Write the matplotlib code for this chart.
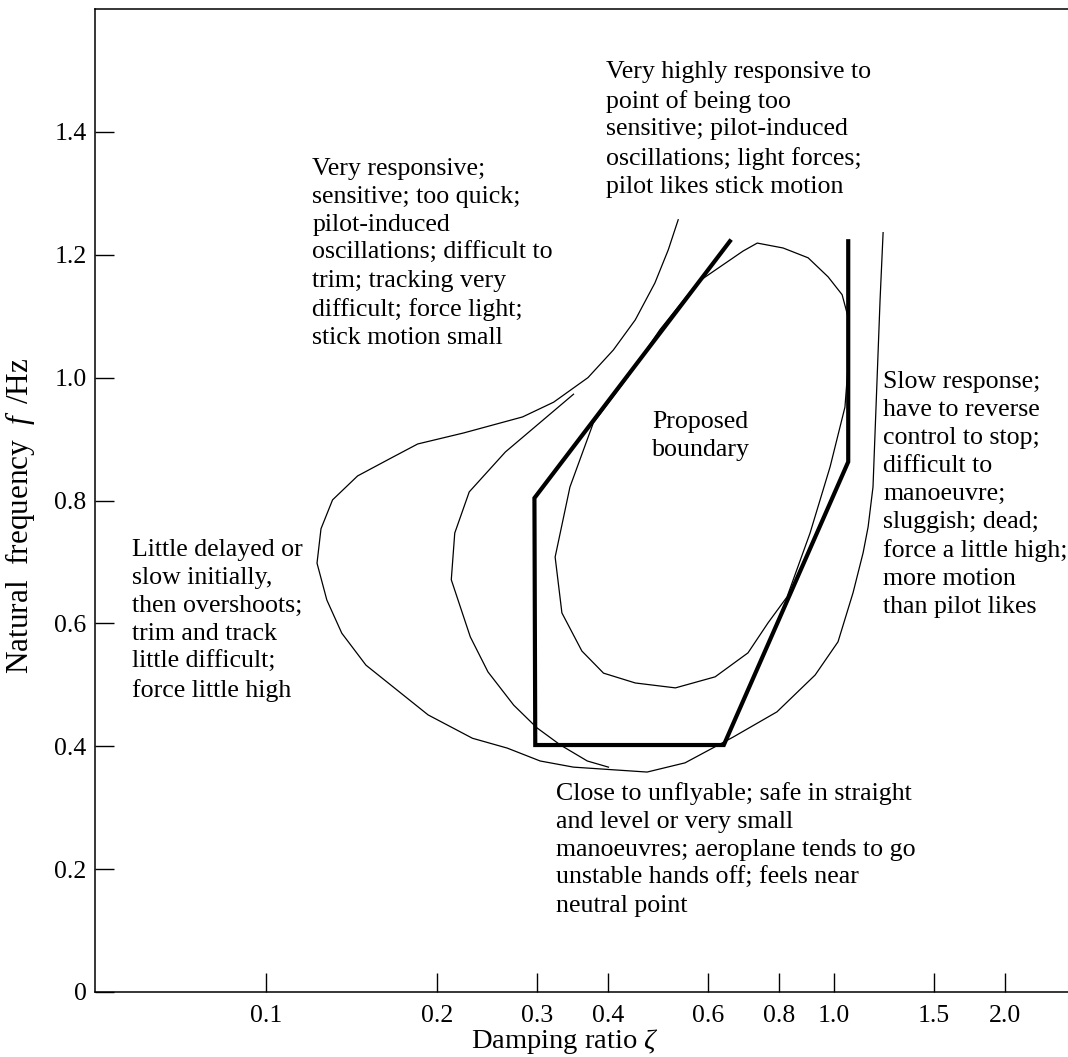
import numpy as np
import matplotlib
matplotlib.use('Agg')
import matplotlib.pylab as plt

plt.rcParams['font.family']=['Liberation Serif','DejaVu Serif']
plt.rcParams['mathtext.fontset']='custom'
plt.rcParams['mathtext.rm']='Liberation Serif'
plt.rcParams['mathtext.it']='Liberation Serif:italic'

# pilot opinion contours (damping ratio, natural frequency in Hz)
outer_zeta=[0.532,0.511,0.484,0.447,0.409,0.369,0.321,0.283,0.223,0.185,0.166,0.145,0.131,0.125,0.123,0.128,0.136,0.150,0.172,0.193,0.231,0.266,0.304,0.348,0.469,0.547,0.665,0.794,0.927,1.017,1.081,1.126,1.149,1.172,1.206,1.221]
outer_freq=[1.257,1.208,1.154,1.094,1.045,1.000,0.960,0.936,0.910,0.892,0.869,0.840,0.801,0.754,0.698,0.638,0.584,0.532,0.488,0.451,0.413,0.397,0.376,0.366,0.358,0.373,0.415,0.456,0.516,0.570,0.650,0.715,0.757,0.822,1.126,1.236]

middle_zeta=[0.348,0.264,0.228,0.215,0.212,0.229,0.246,0.273,0.300,0.330,0.368,0.401]
middle_freq=[0.973,0.879,0.814,0.747,0.671,0.578,0.521,0.467,0.430,0.402,0.376,0.366]

inner_zeta=[0.577,0.494,0.433,0.377,0.343,0.323,0.332,0.360,0.393,0.447,0.526,0.618,0.706,0.766,0.827,0.908,0.985,1.046,1.059,1.059,1.034,0.977,0.901,0.814,0.733,0.692,0.577]
inner_freq=[1.156,1.078,1.000,0.926,0.822,0.708,0.617,0.555,0.519,0.503,0.495,0.513,0.552,0.601,0.643,0.747,0.855,0.952,1.017,1.099,1.135,1.164,1.195,1.211,1.219,1.206,1.156]

boundary_zeta=[0.656,0.297,0.298,0.640,1.060,1.060]
boundary_freq=[1.222,0.804,0.402,0.402,0.863,1.222]

xticks=[0.1,0.2,0.3,0.4,0.6,0.8,1.0,1.5,2.0]
xticklabels=['0.1','0.2','0.3','0.4','0.6','0.8','1.0','1.5','2.0']
yticks=[0,0.2,0.4,0.6,0.8,1.0,1.2,1.4]
yticklabels=['0','0.2','0.4','0.6','0.8','1.0','1.2','1.4']

notes={
  'pio':{'x':0.397,'y':1.515,'text':'Very highly responsive to\npoint of being too\nsensitive; pilot-induced\noscillations; light forces;\npilot likes stick motion'},
  'quick':{'x':0.1207,'y':1.358,'text':'Very responsive;\nsensitive; too quick;\npilot-induced\noscillations; difficult to\ntrim; tracking very\ndifficult; force light;\nstick motion small'},
  'prop':{'x':0.4786,'y':0.946,'text':'Proposed\nboundary'},
  'slow':{'x':1.221,'y':1.011,'text':'Slow response;\nhave to reverse\ncontrol to stop;\ndifficult to\nmanoeuvre;\nsluggish; dead;\nforce a little high;\nmore motion\nthan pilot likes'},
  'delay':{'x':0.058,'y':0.737,'text':'Little delayed or\nslow initially,\nthen overshoots;\ntrim and track\nlittle difficult;\nforce little high'},
  'unfly':{'x':0.3245,'y':0.342,'text':'Close to unflyable; safe in straight\nand level or very small\nmanoeuvres; aeroplane tends to go\nunstable hands off; feels near\nneutral point'},
}

fig=plt.figure(figsize=(10.68,10.57),dpi=100)
ax=fig.add_axes([95/1068.,65/1057.,1-95/1068.,983/1057.])

ax.plot(outer_zeta,outer_freq,color='k',lw=0.9)
ax.plot(middle_zeta,middle_freq,color='k',lw=0.9)
ax.plot(inner_zeta,inner_freq,color='k',lw=0.9)
ax.plot(boundary_zeta,boundary_freq,color='k',lw=3,solid_joinstyle='miter')

ax.set_xscale('log')
ax.set_xlim(0.05,2.584)
ax.set_ylim(0,1.6)
ax.set_xticks(xticks)
ax.set_xticklabels(xticklabels)
ax.xaxis.set_minor_locator(matplotlib.ticker.NullLocator())
ax.set_yticks(yticks)
ax.set_yticklabels(yticklabels)
ax.tick_params(direction='in',length=13.5,width=1,labelsize=18.5,pad=6)
ax.tick_params(axis='x',pad=9)
ax.spines['right'].set_visible(False)
for s in ['left','top','bottom']:
  ax.spines[s].set_linewidth(1.1)

for key in notes.keys():
  ax.text(notes[key]['x'],notes[key]['y'],notes[key]['text'],fontsize=18.6,va='top',ha='left',linespacing=1.35)

fig.text(565/1068.,1-1042/1057.,r'Damping ratio $\zeta$',fontsize=20.5,ha='center',va='center')
fig.text(20/1068.,1-516/1057.,r'Natural  frequency  $f\,$ /Hz',fontsize=22.5,ha='center',va='center',rotation=90)

plt.savefig('out.png')
